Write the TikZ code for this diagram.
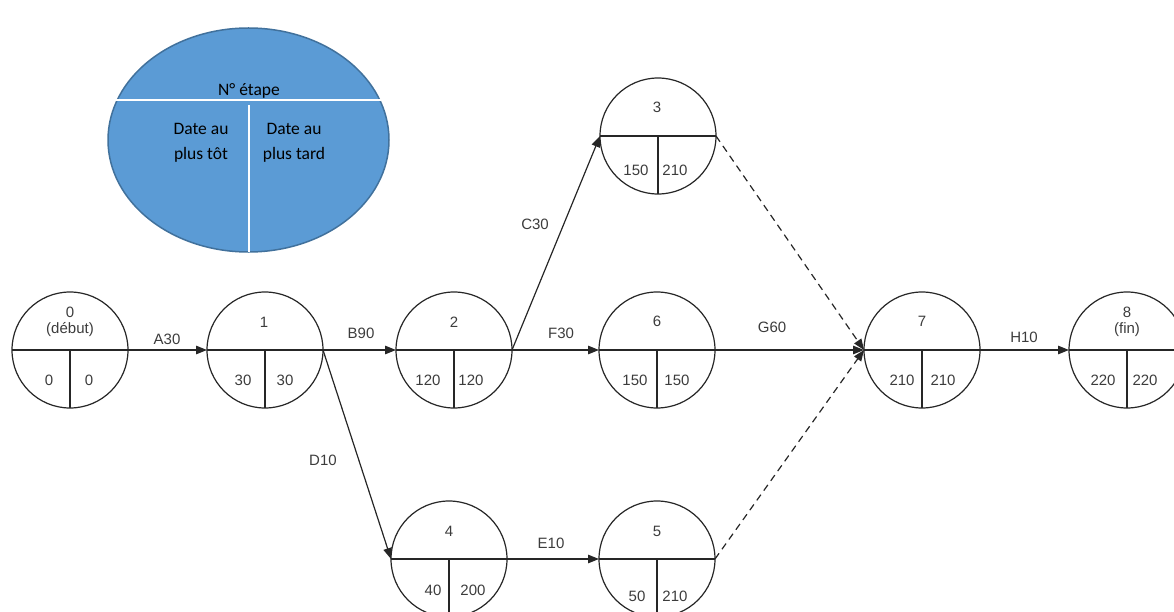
\documentclass[tikz,border=0pt]{standalone}
\usepackage{fontspec}
\setmainfont{Liberation Sans}
\newfontfamily\calfont{Carlito}
\usetikzlibrary{arrows.meta,shapes.geometric}
\definecolor{legfill}{HTML}{5B9BD5}
\definecolor{legline}{HTML}{41719C}
\definecolor{ink}{HTML}{262626}
\definecolor{tink}{HTML}{3C3C3C}
\begin{document}
\begin{tikzpicture}[x=1pt,y=-1pt,
  font=\fontsize{15}{17}\selectfont,
  ev/.style={circle,draw=ink,line width=1.2pt,minimum size=116pt,inner sep=0pt,outer sep=0pt},
  txt/.style={text=tink,inner sep=0pt},
  arr/.style={draw=ink,line width=1.2pt,-{Triangle[length=11pt,width=8.5pt]}},
  dsh/.style={arr,dash pattern=on 7pt off 5pt},
  split/.style={draw=ink,line width=1.2pt},
  legtxt/.style={inner sep=0pt,text=black,font=\calfont\fontsize{17.5}{25}\selectfont,align=center}]
\useasboundingbox (0,0) rectangle (1174,612);
\clip (0,0) rectangle (1174,612);

% legend
\node[ellipse,draw=legline,fill=legfill,line width=1.5pt,minimum width=281pt,minimum height=224pt,inner sep=0pt] (leg) at (248.5,140) {};
\draw[white,line width=1.5pt] (113,100) -- (381,100);
\draw[white,line width=1.5pt] (249,105) -- (249,252);
\node[legtxt] (legnum) at (249,91) {N° étape};
\node[legtxt] (legtot) at (201,143) {Date au\\plus tôt};
\node[legtxt] (legtard) at (294,143) {Date au\\plus tard};

% events
\node[ev] (n0) at (70,350) {};
\node[ev] (n1) at (265,350) {};
\node[ev] (n2) at (454,350) {};
\node[ev] (n3) at (658,136) {};
\node[ev] (n4) at (449,559) {};
\node[ev] (n5) at (657,559) {};
\node[ev] (n6) at (657,350) {};
\node[ev] (n7) at (922,350) {};
\node[ev] (n8) at (1127,350) {};
\foreach \n in {0,...,8} \draw[split] (n\n.west) -- (n\n.east) (n\n.center) -- (n\n.south);

% event texts
\node[txt] (t0a) at (70,312) {0};
\node[txt] (t0b) at (70,330) {(début)};
\node[txt] (t0l) at (49,380) {0};
\node[txt] (t0r) at (89,380) {0};

\node[txt] (t1a) at (264,322) {1};
\node[txt] (t1l) at (243,380) {30};
\node[txt] (t1r) at (285,380) {30};

\node[txt] (t2a) at (454,322) {2};
\node[txt] (t2l) at (428,380) {120};
\node[txt] (t2r) at (471,380) {120};

\node[txt] (t3a) at (657,107) {3};
\node[txt] (t3l) at (636,170) {150};
\node[txt] (t3r) at (675,170) {210};

\node[txt] (t4a) at (449,531) {4};
\node[txt] (t4l) at (433,590) {40};
\node[txt] (t4r) at (473,590) {200};

\node[txt] (t5a) at (657,531) {5};
\node[txt] (t5l) at (637,596) {50};
\node[txt] (t5r) at (675,596) {210};

\node[txt] (t6a) at (657,321) {6};
\node[txt] (t6l) at (635,380) {150};
\node[txt] (t6r) at (677,380) {150};

\node[txt] (t7a) at (922,321) {7};
\node[txt] (t7l) at (902,380) {210};
\node[txt] (t7r) at (943,380) {210};

\node[txt] (t8a) at (1127,312) {8};
\node[txt] (t8b) at (1127,330) {(fin)};
\node[txt] (t8l) at (1103,380) {220};
\node[txt] (t8r) at (1145,380) {220};

% activities
\draw[arr] (n0.east) -- (n1.west);
\draw[arr] (n1.east) -- (n2.west);
\draw[arr] (n2.east) -- (n6.west);
\draw[arr] (n6.east) -- (n7.west);
\draw[arr] (n7.east) -- (n8.west);
\draw[arr] (n2.east) -- (n3.west);
\draw[arr] (n1.east) -- (n4.west);
\draw[arr] (n4.east) -- (n5.west);
\draw[dsh] (n3.east) -- (n7.west);
\draw[dsh] (n5.east) -- (n7.west);

% activity labels
\node[txt] (lA) at (167,339) {A30};
\node[txt] (lB) at (361,333) {B90};
\node[txt] (lF) at (561,333) {F30};
\node[txt] (lG) at (772,327) {G60};
\node[txt] (lH) at (1024,337) {H10};
\node[txt] (lC) at (535,224) {C30};
\node[txt] (lD) at (323,460) {D10};
\node[txt] (lE) at (551,543) {E10};
\end{tikzpicture}
\end{document}
